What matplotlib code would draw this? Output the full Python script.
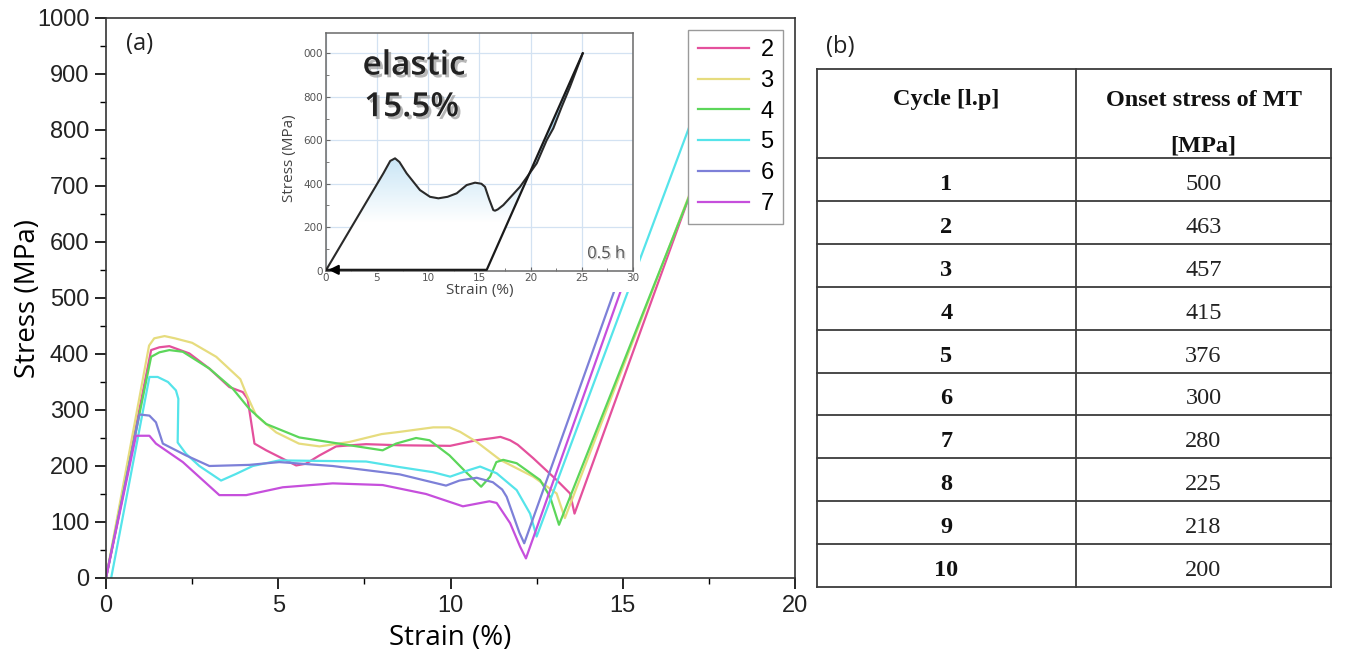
import matplotlib
matplotlib.use("Agg")
import numpy as np
import matplotlib.pyplot as plt
import matplotlib.patheffects as pe
from matplotlib.patches import Rectangle, Polygon
from matplotlib.colors import LinearSegmentedColormap
from matplotlib.ticker import MultipleLocator

# Hauptdiagramm: Zyklen 2..7
strain_2 = [0, 1.31, 1.55, 1.84, 2.42, 3.0, 3.58, 3.97, 4.11, 4.31, 4.65, 5.23, 5.52, 5.8, 6.2, 6.68, 7.55,
            8.53, 9.99, 10.75, 11.24, 11.45, 11.73, 11.95, 12.4, 13.08, 13.47, 13.6, 17.5]
stress_2 = [0, 407, 412, 414, 401, 374, 341, 332, 320, 240, 228, 210, 201, 204, 219, 235, 239,
            237, 236, 246, 250, 252, 246, 238, 214, 175, 151, 115, 778]

strain_3 = [0, 1.25, 1.4, 1.7, 2.0, 2.5, 3.2, 3.9, 4.07, 4.36, 4.94, 5.6, 6.2, 7.07, 8.0, 8.53, 9.5, 9.97,
            10.28, 10.76, 11.44, 12.4, 13.08, 13.32, 17.5]
stress_3 = [0, 415, 428, 432, 428, 420, 395, 355, 329, 290, 260, 240, 235, 243, 257, 261, 269, 269,
            261, 243, 211, 181, 151, 107, 775]

strain_4 = [0, 1.31, 1.55, 1.84, 2.23, 3.0, 3.68, 4.16, 4.65, 5.61, 6.97, 8.03, 8.42, 9.0, 9.39, 9.97,
            10.45, 10.89, 11.15, 11.33, 11.53, 11.92, 12.6, 12.89, 13.15, 17.5]
stress_4 = [0, 395, 403, 407, 404, 374, 338, 302, 275, 251, 238, 228, 240, 250, 246, 219,
            189, 163, 181, 207, 211, 205, 175, 145, 95, 770]

strain_5 = [0.15, 1.26, 1.5, 1.8, 2.03, 2.1, 2.08, 2.32, 2.71, 3.34, 3.78, 4.26, 5.03, 7.55, 8.53, 9.49,
            9.99, 10.5, 10.86, 11.34, 11.92, 12.31, 12.5, 17.2]
stress_5 = [0, 359, 359, 350, 335, 320, 242, 222, 200, 174, 186, 200, 210, 208, 198, 189,
            181, 192, 199, 187, 157, 115, 74, 850]

strain_6 = [0, 0.97, 1.26, 1.45, 1.65, 2.32, 3.0, 4.16, 5.03, 6.58, 8.03, 8.53, 9.87, 10.26, 10.76, 11.23,
            11.5, 11.63, 12.0, 12.14, 15.0]
stress_6 = [0, 292, 290, 278, 240, 219, 200, 202, 207, 200, 189, 185, 165, 174, 179, 171,
            158, 145, 81, 62, 555]

strain_7 = [0, 0.87, 1.26, 1.45, 2.23, 3.29, 4.07, 5.13, 6.58, 8.03, 9.29, 10.36, 11.13, 11.34, 11.73,
            12.02, 12.19, 15.1]
stress_7 = [0, 254, 254, 240, 207, 148, 148, 162, 169, 166, 150, 128, 137, 134, 98,
            56, 35, 540]

cycle_labels = ["2", "3", "4", "5", "6", "7"]
cycle_colors = ["#e4509c", "#e6dc7e", "#5cd65a", "#55e4ea", "#7d80d8", "#c64fdc"]

# Inset: erster Zyklus (0.5 h)
inset_load_x = [0, 5.63, 6.3, 6.77, 7.2, 7.9, 9.2, 10.18, 11.0, 11.9, 12.79, 13.76, 14.58, 15.2, 15.55,
                15.95, 16.36, 16.53, 16.8, 17.34, 18.97, 20.6, 21.58, 22.22, 23.04, 23.85, 25.09]
inset_load_y = [0, 448, 505, 517, 500, 448, 371, 340, 333, 340, 356, 394, 405, 400, 386,
                330, 279, 276, 282, 302, 386, 494, 601, 655, 754, 846, 1000]
inset_unload_x = [25.09, 15.72, 0]
inset_unload_y = [1000, 4, 4]

# Tabelle
table_cycles = ["1", "2", "3", "4", "5", "6", "7", "8", "9", "10"]
table_onset = ["500", "463", "457", "415", "376", "300", "280", "225", "218", "200"]

W, H = 1345, 655
fig = plt.figure(figsize=(W / 100, H / 100), dpi=100)
fig.patch.set_facecolor("white")


def fx(px):
    return px / W


def fy(py):
    return 1 - py / H


# ---------------- Hauptplot ----------------
ax = fig.add_axes([fx(106), fy(578), fx(795) - fx(106), fy(18) - fy(578)])
series = [(strain_2, stress_2), (strain_3, stress_3), (strain_4, stress_4),
          (strain_5, stress_5), (strain_6, stress_6), (strain_7, stress_7)]
for (sx, sy), lab, col in zip(series, cycle_labels, cycle_colors):
    ax.plot(sx, sy, color=col, lw=1.6, label=lab, zorder=2)

ax.set_xlim(0, 20)
ax.set_ylim(0, 1000)
ax.xaxis.set_major_locator(MultipleLocator(5))
ax.xaxis.set_minor_locator(MultipleLocator(2.5))
ax.yaxis.set_major_locator(MultipleLocator(100))
ax.yaxis.set_minor_locator(MultipleLocator(50))
ax.tick_params(which="major", direction="out", length=8, width=1.2, labelsize=17, pad=4)
ax.tick_params(which="minor", direction="out", length=4, width=1.0)
for lbl in ax.get_xticklabels() + ax.get_yticklabels():
    lbl.set_fontfamily("Liberation Sans")
    lbl.set_color("#222222")
for s in ax.spines.values():
    s.set_linewidth(1.2)
    s.set_color("#333333")
ax.set_xlabel("Strain (%)", fontfamily="Open Sans", fontsize=20, labelpad=5)
ax.set_ylabel("Stress (MPa)", fontfamily="Open Sans", fontsize=20)
ax.yaxis.set_label_coords((42 - 106) / 689, 0.5)

leg = ax.legend(loc="upper right", prop={"family": "Liberation Sans", "size": 17},
                handlelength=2.15, handletextpad=0.5, labelspacing=0.37,
                borderpad=0.4, fancybox=False, framealpha=1, edgecolor="#9a9a9a")
leg.set_zorder(6)

# weisser Hintergrund des eingefuegten Bildes
ax.add_patch(Rectangle((fx(282), fy(292)), fx(640) - fx(282), fy(26) - fy(292),
                       transform=fig.transFigure, facecolor="white", edgecolor="none",
                       zorder=4, clip_on=False))

# ---------------- Inset ----------------
axi = fig.add_axes([fx(325.7), fy(270.7), fx(633) - fx(325.7), fy(32.7) - fy(270.7)])
axi.set_facecolor("white")

poly_xy = list(zip(inset_load_x, inset_load_y)) + list(zip(inset_unload_x[1:], inset_unload_y[1:]))
poly = Polygon(poly_xy, closed=True, facecolor="none", edgecolor="none")
axi.add_patch(poly)
yy = np.linspace(0, 1000, 200)
grad = np.clip((yy - 220) / 480, 0, 1)[:, None] * np.ones((1, 10))
cmap = LinearSegmentedColormap.from_list("blu", ["#ffffff", "#a9d6f0"])
im = axi.imshow(grad, extent=[0, 26, 0, 1000], origin="lower", aspect="auto", cmap=cmap,
                vmin=0, vmax=1, zorder=1)
im.set_clip_path(poly)

axi.plot(inset_load_x, inset_load_y, color="#2a2a2a", lw=1.5, zorder=3)
axi.plot(inset_unload_x, inset_unload_y, color="#1a1a1a", lw=1.6, zorder=3)
axi.annotate("", xy=(0, 4), xytext=(1.5, 4),
             arrowprops=dict(arrowstyle="-|>", color="black", lw=1.6, mutation_scale=14), zorder=4)

axi.set_xlim(0, 30)
axi.set_ylim(0, 1095)
axi.xaxis.set_major_locator(MultipleLocator(5))
axi.xaxis.set_minor_locator(MultipleLocator(2.5))
axi.set_yticks([0, 200, 400, 600, 800, 1000])
axi.set_yticklabels(["0", "200", "400", "600", "800", "000"])
axi.yaxis.set_minor_locator(MultipleLocator(100))
axi.grid(True, which="major", color="#d3e2f2", lw=0.9, zorder=0)
axi.set_axisbelow(True)
axi.tick_params(which="major", direction="in", length=3, width=0.8, labelsize=7.5,
                colors="#666666", labelcolor="#555555", pad=2)
axi.tick_params(which="minor", direction="in", length=2, width=0.6, colors="#666666")
for s in axi.spines.values():
    s.set_color("#6a6a6a")
    s.set_linewidth(1.1)
axi.set_xlabel("Strain (%)", fontfamily="Open Sans", fontsize=11, color="#444444", labelpad=0)

shadow = [pe.SimplePatchShadow(offset=(2, -2), shadow_rgbFace="#888888", alpha=0.6), pe.Normal()]
axi.text(0.12, 0.86, "elastic", transform=axi.transAxes, fontfamily="Open Sans", fontsize=24,
         fontweight="semibold", color="#222222", ha="left", va="center", path_effects=shadow)
axi.text(0.125, 0.685, "15.5%", transform=axi.transAxes, fontfamily="Open Sans", fontsize=24,
         fontweight="semibold", color="#222222", ha="left", va="center", path_effects=shadow)
axi.text(0.975, 0.07, "0.5 h", transform=axi.transAxes, fontfamily="Open Sans", fontsize=12,
         color="#555555", ha="right", va="center",
         path_effects=[pe.SimplePatchShadow(offset=(1, -1), shadow_rgbFace="#aaaaaa", alpha=0.6), pe.Normal()])

# ---------------- Figurenebene: Beschriftungen + Tabelle ----------------
ov = fig.add_axes([0, 0, 1, 1], zorder=10)
ov.set_xlim(0, W)
ov.set_ylim(H, 0)
ov.axis("off")

ov.text(290, 158, "Stress (MPa)", rotation=90, ha="center", va="center",
        fontfamily="Open Sans", fontsize=11, color="#444444")
ov.text(140, 44, "(a)", ha="center", va="center", fontfamily="Open Sans", fontsize=17, color="#222222")
ov.text(840, 47, "(b)", ha="center", va="center", fontfamily="Open Sans", fontsize=17, color="#222222")

t_left, t_mid, t_right = 817, 1076, 1331
t_top, t_head = 69, 158.3
row_h = 42.84
n_rows = len(table_cycles)
t_bottom = t_head + n_rows * row_h
lc = "#3c3c3c"
ov.plot([t_left, t_right], [t_top, t_top], color=lc, lw=1.3)
for i in range(n_rows + 1):
    y = t_head + i * row_h
    ov.plot([t_left, t_right], [y, y], color=lc, lw=1.3)
for x in (t_left, t_mid, t_right):
    ov.plot([x, x], [t_top, t_bottom], color=lc, lw=1.3)

cx_l = (t_left + t_mid) / 2
cx_r = (t_mid + t_right) / 2
serif = "Liberation Serif"
fs_t = 17.5
ov.text(cx_l, 100, "Cycle [l.p]", ha="center", va="center", fontfamily=serif, fontsize=fs_t,
        fontweight="bold", color="#111111")
ov.text(cx_r, 100, "Onset stress of MT", ha="center", va="center", fontfamily=serif, fontsize=fs_t,
        fontweight="bold", color="#111111")
ov.text(cx_r, 146, "[MPa]", ha="center", va="center", fontfamily=serif, fontsize=fs_t,
        fontweight="bold", color="#111111")
for i, (c, v) in enumerate(zip(table_cycles, table_onset)):
    yc = t_head + (i + 0.5) * row_h + 5
    ov.text(cx_l, yc, c, ha="center", va="center", fontfamily=serif, fontsize=fs_t,
            fontweight="bold", color="#111111")
    ov.text(cx_r, yc, v, ha="center", va="center", fontfamily=serif, fontsize=fs_t, color="#222222")

fig.savefig("out.png", dpi=100)
plt.close(fig)
